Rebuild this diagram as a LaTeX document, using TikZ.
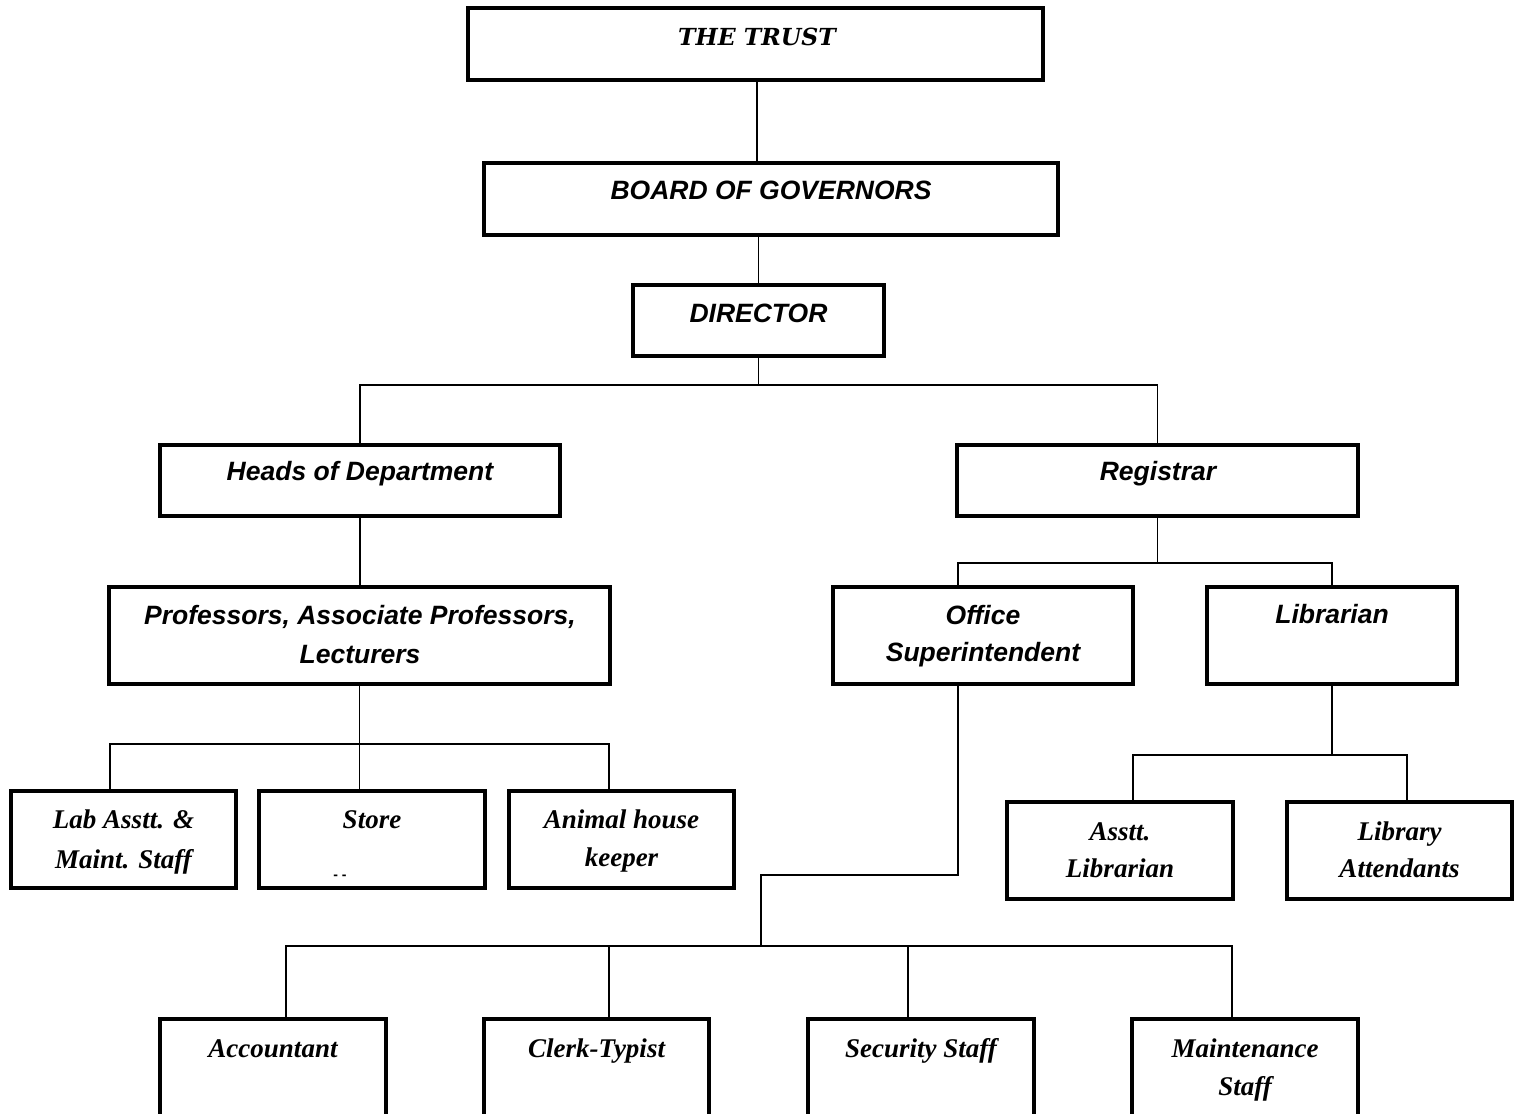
\documentclass[tikz,border=0pt]{standalone}
\usepackage{fontspec}
\newfontfamily\arialf{Liberation Sans}
\newfontfamily\serf{Liberation Serif}
\newfontfamily\bookf{DejaVu Serif}
\begin{document}
\begin{tikzpicture}[x=1pt,y=-1pt,
  box/.style={draw, line width=3.2pt, inner sep=0pt},
  conn/.style={line width=1.4pt},
  tbook/.style={anchor=base, inner sep=0pt, font=\bookf\bfseries\itshape\fontsize{23.5}{28}\selectfont},
  tsans/.style={anchor=base, inner sep=0pt, font=\arialf\bfseries\itshape\fontsize{26.5}{32}\selectfont},
  tser/.style={anchor=base, inner sep=0pt, font=\serf\bfseries\itshape\fontsize{27}{32}\selectfont}]
\useasboundingbox (0,0) rectangle (1519,1114);
\clip (0,0) rectangle (1519,1114);
\fill[white] (0,0) rectangle (1519,1114);

% boxes
\node[box, minimum width=575, minimum height=72] (trust) at (755.5,44) {};
\node[box, minimum width=574, minimum height=72] (bog) at (771,199) {};
\node[box, minimum width=251, minimum height=71] (dir) at (758.5,320.5) {};
\node[box, minimum width=400, minimum height=71] (hod) at (360,480.5) {};
\node[box, minimum width=401, minimum height=71] (reg) at (1157.5,480.5) {};
\node[box, minimum width=501, minimum height=97] (prof) at (359.5,635.5) {};
\node[box, minimum width=300, minimum height=97] (off) at (983,635.5) {};
\node[box, minimum width=250, minimum height=97] (lib) at (1332,635.5) {};
\node[box, minimum width=226, minimum height=97] (asl) at (1120,850.5) {};
\node[box, minimum width=225, minimum height=97] (lat) at (1399.5,850.5) {};
\node[box, minimum width=225, minimum height=97] (lab) at (123.5,839.5) {};
\node[box, minimum width=226, minimum height=97] (store) at (372,839.5) {};
\node[box, minimum width=225, minimum height=97] (animal) at (621.5,839.5) {};
\node[box, minimum width=226, minimum height=106] (acc) at (273,1072) {};
\node[box, minimum width=225, minimum height=106] (clerk) at (596.5,1072) {};
\node[box, minimum width=226, minimum height=106] (sec) at (921,1072) {};
\node[box, minimum width=226, minimum height=106] (maint) at (1245,1072) {};

% texts
\node[tbook] (t1) at (757,45) {THE TRUST};
\node[tsans] (t2) at (771,199) {BOARD OF GOVERNORS};
\node[tsans] (t3) at (758.5,322) {DIRECTOR};
\node[tsans] (t4) at (360,480) {Heads of Department};
\node[tsans] (t5) at (1158,480) {Registrar};
\node[tsans] (t6a) at (360,624) {Professors, Associate Professors,};
\node[tsans] (t6b) at (360,663) {Lecturers};
\node[tsans] (t7a) at (983,624) {Office};
\node[tsans] (t7b) at (983,661) {Superintendent};
\node[tsans] (t8) at (1332,623) {Librarian};
\node[tser] (t9a) at (123.5,828) {Lab Asstt. \&};
\node[tser] (t9b) at (123.5,868) {Maint. Staff};
\node[tser] (t10) at (372,828) {Store};
\node[anchor=base, inner sep=0pt, font=\arialf\bfseries\fontsize{14}{14}\selectfont] (t10b) at (340,879) {- -};
\node[tser] (t11a) at (621.5,828) {Animal house};
\node[tser] (t11b) at (621.5,866) {keeper};
\node[tser] (t12a) at (1120,840) {Asstt.};
\node[tser] (t12b) at (1120,877) {Librarian};
\node[tser] (t13a) at (1399.5,840) {Library};
\node[tser] (t13b) at (1399.5,877) {Attendants};
\node[tser] (t14) at (273,1057) {Accountant};
\node[tser] (t15) at (596.5,1057) {Clerk-Typist};
\node[tser] (t16) at (921,1057) {Security Staff};
\node[tser] (t17a) at (1245,1057) {Maintenance};
\node[tser] (t17b) at (1245,1095) {Staff};

% junctions
\coordinate (j0) at (757,385);
\coordinate (j1) at (359.5,744);
\coordinate (j2) at (1157.5,563);
\coordinate (j3) at (1332,755);
\coordinate (j4) at (761,875);
\coordinate (j5) at (761,946);

% connectors
\draw[conn] ([xshift=1.5]trust.south) -- ([xshift=1.5]trust.south |- bog.north);
\draw[conn] (dir.north) -- (dir.north |- bog.south);
\draw[conn] (dir.south) -- (dir.south |- j0);
\draw[conn] (hod.north) |- (j0) -| (reg.north);
\draw[conn] (hod.south) -- (hod.south |- prof.north);
\draw[conn] (prof.south) -- (prof.south |- store.north);
\draw[conn] ([xshift=-13.5]lab.north) |- (j1) -| ([xshift=-12.5]animal.north);
\draw[conn] (reg.south) -- (j2);
\draw[conn] ([xshift=-25]off.north) |- (j2) -| (lib.north);
\draw[conn] (lib.south) -- (j3);
\draw[conn] ([xshift=13]asl.north) |- (j3) -| ([xshift=7.5]lat.north);
\draw[conn] ([xshift=-25]off.south) |- (j4) -- (j5);
\draw[conn] ([xshift=13]acc.north) |- (j5) -| ([xshift=-13]maint.north);
\draw[conn] ([xshift=12.5]clerk.north) -- ([xshift=12.5]clerk.north |- j5);
\draw[conn] ([xshift=-13]sec.north) -- ([xshift=-13]sec.north |- j5);
\end{tikzpicture}
\end{document}
